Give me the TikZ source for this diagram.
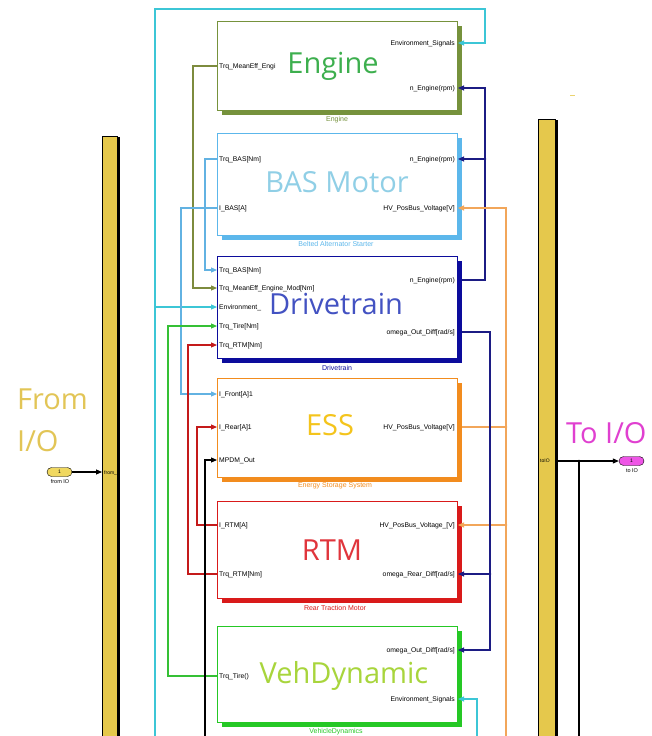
\documentclass[tikz,border=0pt]{standalone}
\usepackage{fontspec}
\setmainfont{Liberation Sans}
\newfontfamily\titlefont{Open Sans}
\usetikzlibrary{arrows.meta,backgrounds}
\definecolor{engC}{HTML}{76923C}
\definecolor{engT}{HTML}{3DAF4E}
\definecolor{basC}{HTML}{5CB7EB}
\definecolor{basT}{HTML}{90CFE6}
\definecolor{dtC}{HTML}{0C0C9C}
\definecolor{dtT}{HTML}{4352C2}
\definecolor{essC}{HTML}{F28C1E}
\definecolor{essT}{HTML}{F4C41C}
\definecolor{rtmC}{HTML}{D91A1A}
\definecolor{rtmT}{HTML}{E0353C}
\definecolor{vdC}{HTML}{25C825}
\definecolor{vdT}{HTML}{A8D53C}
\definecolor{wCyan}{HTML}{3CC6D6}
\definecolor{wLblue}{HTML}{62B2E2}
\definecolor{wOlive}{HTML}{7D8B3E}
\definecolor{wGreen}{HTML}{35C035}
\definecolor{wRed}{HTML}{C41A1A}
\definecolor{wDblue}{HTML}{1C1C84}
\definecolor{wOrange}{HTML}{F2A65A}
\definecolor{busY}{HTML}{E5C84C}
\definecolor{ioY}{HTML}{E2C556}
\definecolor{toM}{HTML}{E040D0}
\definecolor{pillM}{HTML}{EE55E6}
\definecolor{pillY}{HTML}{F0D860}
\tikzset{
 blk/.style={draw=#1, fill=white, line width=0.9pt, inner sep=0, outer sep=0, anchor=north west, minimum width=240pt},
 ttl/.style={font=\titlefont\fontsize{29}{29}\selectfont, text=#1, anchor=base, inner sep=0},
 blkcap/.style={font=\fontsize{7}{8}\selectfont, text=#1, inner sep=0},
 portl/.style={font=\fontsize{6.8}{7}\selectfont, anchor=mid west, inner sep=0},
 portr/.style={font=\fontsize{6.8}{7}\selectfont, anchor=mid east, inner sep=0},
 wire/.style={draw=#1, line width=1.1pt},
 arr/.style={-{Triangle[length=6pt,width=5pt]}},
 jdot/.style={circle, fill=#1, inner sep=0, minimum size=2.8pt},
 pill/.style={draw=black, fill=#1, rounded corners=4.5pt, minimum width=25pt, minimum height=9pt, inner sep=0, font=\fontsize{5}{5}\selectfont},
 iolbl/.style={font=\titlefont\fontsize{29}{29}\selectfont, text=#1, anchor=base west, inner sep=0},
}
\begin{document}
\begin{tikzpicture}[x=1pt,y=-1pt]
\useasboundingbox (0,0) rectangle (652,736);
\clip (0,0) rectangle (652,736);

% ---------- blocks ----------
\node[blk=engC, minimum height=89pt] (eng) at (217,21) {};
\node[blk=basC, minimum height=102pt] (bas) at (217,133) {};
\node[blk=dtC, minimum height=102pt] (dt) at (217,256) {};
\node[blk=essC, minimum height=99pt] (ess) at (217,378) {};
\node[blk=rtmC, minimum height=97pt] (rtm) at (217,501) {};
\node[blk=vdC, minimum height=96pt] (vd) at (217,626) {};

\begin{pgfonlayer}{background}
\fill[white] (0,0) rectangle (652,736);
\foreach \b/\c in {eng/engC,bas/basC,dt/dtC,ess/essC,rtm/rtmC,vd/vdC}{
  \fill[\c] ([shift={(4.5,4.5)}]\b.north west) rectangle ([shift={(4.5,4.5)}]\b.south east);
}
\end{pgfonlayer}

% titles
\node[ttl=engT] (engt) at (333,73) {Engine};
\node[ttl=basT] (bast) at (337,192) {BAS Motor};
\node[ttl=dtT] (dtt) at (336,314) {Drivetrain};
\node[ttl=essT] (esst) at (330,435) {ESS};
\node[ttl=rtmT] (rtmt) at (332,560) {RTM};
\node[ttl=vdT] (vdt) at (344,683) {VehDynamic};

% captions
\node[blkcap=engC] (engc) at (337,120) {Engine};
\node[blkcap=basC] (basc) at (336,244) {Belted Alternator Starter};
\node[blkcap=dtC] (dtc) at (337,368) {Drivetrain};
\node[blkcap=essC] (essc) at (335,486) {Energy Storage System};
\node[blkcap=rtmC] (rtmc) at (335,608) {Rear Traction Motor};
\node[blkcap=vdC] (vdc) at (336,732) {VehicleDynamics};

% ports coordinates
\coordinate (eng-trq) at (217,66);
\coordinate (eng-env) at (458,43);
\coordinate (eng-neng) at (458,88);
\coordinate (bas-trq) at (217,159);
\coordinate (bas-i) at (217,208);
\coordinate (bas-neng) at (458,159);
\coordinate (bas-hv) at (458,208);
\coordinate (dt-trqbas) at (217,270);
\coordinate (dt-trqme) at (217,288);
\coordinate (dt-env) at (217,307);
\coordinate (dt-tire) at (217,326);
\coordinate (dt-trqrtm) at (217,345);
\coordinate (dt-neng) at (462,280);
\coordinate (dt-omega) at (462,332);
\coordinate (ess-ifront) at (217,394);
\coordinate (ess-irear) at (217,427);
\coordinate (ess-mpdm) at (217,460);
\coordinate (ess-hv) at (462,427);
\coordinate (rtm-i) at (217,525);
\coordinate (rtm-trq) at (217,574);
\coordinate (rtm-hv) at (458,525);
\coordinate (rtm-omega) at (458,574);
\coordinate (vd-trq) at (217,676);
\coordinate (vd-omega) at (458,650);
\coordinate (vd-env) at (458,699);

% port labels
\node[portl] (l1) at (219,66) {Trq\_MeanEff\_Engi};
\node[portr] (r1) at (455,43) {Environment\_Signals};
\node[portr] (r2) at (455,88) {n\_Engine(rpm)};
\node[portl] (l2) at (219,159) {Trq\_BAS[Nm]};
\node[portl] (l3) at (219,208) {I\_BAS[A]};
\node[portr] (r3) at (455,159) {n\_Engine(rpm)};
\node[portr] (r4) at (455,208) {HV\_PosBus\_Voltage[V]};
\node[portl] (l4) at (219,270) {Trq\_BAS[Nm]};
\node[portl] (l5) at (219,288) {Trq\_MeanEff\_Engine\_Mod[Nm]};
\node[portl] (l6) at (219,307) {Environment\_};
\node[portl] (l7) at (219,326) {Trq\_Tire[Nm]};
\node[portl] (l8) at (219,345) {Trq\_RTM[Nm]};
\node[portr] (r5) at (455,280) {n\_Engine(rpm)};
\node[portr] (r6) at (455,332) {omega\_Out\_Diff[rad/s]};
\node[portl] (l9) at (219,394) {I\_Front[A]1};
\node[portl] (l10) at (219,427) {I\_Rear[A]1};
\node[portl] (l11) at (219,460) {MPDM\_Out};
\node[portr] (r7) at (455,427) {HV\_PosBus\_Voltage[V]};
\node[portl] (l12) at (219,525) {I\_RTM[A]};
\node[portl] (l13) at (219,574) {Trq\_RTM[Nm]};
\node[portr] (r8) at (455,525) {HV\_PosBus\_Voltage\_[V]};
\node[portr] (r9) at (455,574) {omega\_Rear\_Diff[rad/s]};
\node[portl] (l14) at (219,676) {Trq\_Tire()};
\node[portr] (r10) at (455,650) {omega\_Out\_Diff[rad/s]};
\node[portr] (r11) at (455,699) {Environment\_Signals};

% ---------- buses ----------
\node[fill=busY, draw=black, line width=0.6pt, inner sep=0, anchor=north west, minimum width=15pt, minimum height=610pt] (busL) at (102,136) {};
\fill[black] (116.5,137) rectangle (120,746);
\node[fill=busY, draw=black, line width=0.6pt, inner sep=0, anchor=north west, minimum width=17pt, minimum height=630pt] (busR) at (538,119) {};
\fill[black] (554.5,120) rectangle (558,750);
\node[font=\fontsize{5}{5}\selectfont, anchor=west, inner sep=0] (busLt) at (104,473) {from\_};
\node[font=\fontsize{5}{5}\selectfont, anchor=west, inner sep=0] (busRt) at (540,461) {toIO};

% IO ports
\node[pill=pillY] (pillL) at (59.5,472) {1};
\node[font=\fontsize{5.5}{6}\selectfont, inner sep=0] (pillLc) at (60,482) {from IO};
\node[pill=pillM] (pillR) at (631.5,461) {1};
\node[font=\fontsize{5.5}{6}\selectfont, inner sep=0] (pillRc) at (632,471) {to IO};
\coordinate (busLin) at (102,472);
\coordinate (busRout) at (558,461);
\coordinate (outj) at (579,461);
\coordinate (outbot) at (579,736);
\draw[wire=black, arr] (pillL.east) -- (busLin);
\draw[wire=black, arr] (busRout) -- (pillR.west);
\draw[wire=black] (outj) -- (outbot);
\node[jdot=black] (outjd) at (outj) {};

\node[iolbl=ioY] (fromt1) at (17,409) {From};
\node[iolbl=ioY] (fromt2) at (17,451) {I/O};
\node[iolbl=toM] (tot) at (566,443) {To I/O};

\coordinate (ym1) at (570,95);
\coordinate (ym2) at (575,95);
\draw[draw=busY!80!white, line width=0.8pt] (ym1) -- (ym2);

% ---------- wires, left side ----------
\coordinate (cyL) at (155,736);
\coordinate (cyTop) at (485,9);
\draw[wire=wCyan, arr] (cyL) |- (cyTop) |- (eng-env);
\draw[wire=wCyan, arr] (cyL |- dt-env) -- (dt-env);
\draw[wire=wOlive, arr] (eng-trq) -- ++(-24,0) |- (dt-trqme);
\draw[wire=wLblue, arr] (bas-trq) -- ++(-12,0) |- (dt-trqbas);
\draw[wire=wLblue, arr] (bas-i) -- ++(-36,0) |- (ess-ifront);
\draw[wire=wGreen, arr] (vd-trq) -- ++(-49,0) |- (dt-tire);
\draw[wire=wRed, arr] (rtm-trq) -- ++(-29,0) |- (dt-trqrtm);
\draw[wire=wRed, arr] (rtm-i) -- ++(-20,0) |- (ess-irear);
\coordinate (mpdmbot) at (205,736);
\draw[wire=black, arr] (mpdmbot) |- (ess-mpdm);

% ---------- wires, right side ----------
\coordinate (dbx) at (485,280);
\draw[wire=wDblue, arr] (dt-neng) -- (dbx) |- (eng-neng);
\draw[wire=wDblue, arr] (dbx |- bas-neng) -- (bas-neng);
\node[jdot=wDblue] (j1) at (dbx |- bas-neng) {};

\coordinate (orbot) at (506,736);
\draw[wire=wOrange, arr] (orbot) |- (bas-hv);
\draw[wire=wOrange] (ess-hv) -- (orbot |- ess-hv);
\node[jdot=wOrange] (j2) at (orbot |- ess-hv) {};
\draw[wire=wOrange, arr] (orbot |- rtm-hv) -- (rtm-hv);
\node[jdot=wOrange] (j3) at (orbot |- rtm-hv) {};

\coordinate (db2) at (490,332);
\draw[wire=wDblue, arr] (dt-omega) -- (db2) |- (vd-omega);
\draw[wire=wDblue, arr] (db2 |- rtm-omega) -- (rtm-omega);
\node[jdot=wDblue] (j4) at (db2 |- rtm-omega) {};

\coordinate (cybot2) at (477,736);
\draw[wire=wCyan, arr] (cybot2) |- (vd-env);
\end{tikzpicture}
\end{document}
